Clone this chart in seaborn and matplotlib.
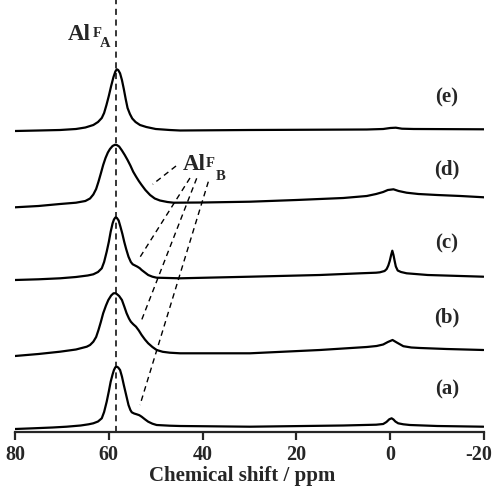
import matplotlib
matplotlib.use('Agg')
import matplotlib.pyplot as plt
import matplotlib.transforms as mtransforms
import seaborn as sns

# stacked 27Al NMR traces: chemical shift (ppm) and stacked intensity
ppm_a = [80, 76.1, 72, 69, 66, 64.3, 63.3, 62.3, 61.5, 61.0, 60.45, 60.0, 59.6, 59.2, 58.9, 58.6,
         58.3, 58.0, 57.6, 57.2, 56.8, 56.3, 55.8, 55.4, 55.1, 54.6, 54.05, 53.5, 53.0, 52.3, 51.6,
         50.7, 49.8, 47, 44.8, 29.9, 10, 3, 1.5, 0.8, 0.2, -0.3, -0.7, -1.1, -1.7, -2.8, -4.2, -10, -19.9]
int_a = [3, 3.7, 4.5, 5.3, 6.5, 7.7, 8.7, 10.5, 13.7, 20, 30.3, 40.5, 50.3, 57.5, 62, 64.8,
         65.3, 64.5, 62, 55.5, 47, 37, 27, 22, 19.7, 18.5, 17.7, 16.8, 15.3, 12.7, 10.3,
         8.3, 7, 6.3, 6, 5.3, 6.5, 7.3, 8, 10, 12.7, 13.7, 12.5, 10.5, 8.7, 7.7, 7, 6, 5.3]

ppm_b = [80, 75, 70.4, 67, 64.7, 64, 63.3, 62.7, 62.2, 61.7, 61.2, 60.6, 60.1, 59.5, 59.0, 58.6,
         58.3, 57.8, 57.2, 56.7, 56.2, 55.7, 55.3, 54.8, 54.2, 53.6, 53.0, 52.3, 51.6, 50.7, 49.8,
         48.5, 47.0, 44.8, 29.9, 15, 5, 2.9, 1.5, 0.5, -0.5, -1.4, -2.8, -4.5, -6.4, -12, -19.9]
int_b = [76, 78, 80.3, 82.5, 85.3, 87, 90.3, 95, 102, 110, 118.7, 126.5, 132, 136.5, 138.7, 138.8,
         138, 136, 132, 125.5, 118.7, 113.5, 110.3, 107.8, 105.3, 101.5, 97, 92.5, 88.7, 85, 82,
         80.2, 79.3, 78.7, 78.7, 82, 85, 86, 87.5, 90, 92, 89.5, 85.8, 84.5, 84, 83, 82]

ppm_c = [80, 75, 70.4, 67, 64.5, 63.3, 62.3, 61.5, 61.0, 60.45, 60.0, 59.6, 59.2, 58.9, 58.6,
         58.3, 57.9, 57.5, 57.1, 56.7, 56.3, 55.8, 55.3, 54.9, 54.4, 53.9, 53.4, 53.0, 52.3, 51.6,
         50.7, 49.8, 44.8, 29.9, 15, 6.4, 3, 2.2, 1.2, 0.75, 0.4, 0.1, -0.2, -0.45, -0.7, -0.95,
         -1.2, -1.6, -2.3, -3.5, -8, -19.9]
int_c = [152, 152.7, 153.7, 155, 156.5, 157.7, 160, 163.7, 170, 180.3, 190, 200.3, 208.5, 212.5, 214.5,
         214.2, 211.5, 205, 198, 190, 183, 175.3, 170, 167.7, 166.5, 165.3, 163.8, 162, 159.5, 157,
         155.3, 154.3, 153.7, 155.3, 157, 158.7, 159.3, 159.7, 161, 163, 166.5, 171, 177, 181.3, 177, 171,
         165.5, 161.5, 160, 158.7, 157, 155.3]

ppm_d = [80, 75, 70.4, 67, 65, 64, 63.3, 62.7, 62.2, 61.7, 61.2, 60.7, 60.2, 59.75, 59.2, 58.7,
         58.3, 57.8, 57.2, 56.6, 56.0, 55.4, 54.8, 54.2, 53.6, 53.0, 52.2, 51.2, 50.2, 49.1, 47.5,
         46.2, 40, 29.9, 20, 10, 5, 3, 1.5, 0.5, -0.7, -1.8, -3.5, -6, -10, -15, -20]
int_d = [224.7, 226, 228, 229.3, 231, 233.5, 237.5, 243, 250.3, 258.5, 267, 274, 279.5, 283, 286, 287.2,
         287, 285.5, 281.5, 277, 272, 266.5, 260.3, 255.5, 251, 247, 242, 237, 233.5, 231.5, 230,
         229.3, 229.5, 230.3, 232, 234, 236, 238, 240, 242, 242.7, 241, 239.3, 238, 237, 236, 234.7]

ppm_e = [80, 75, 70.4, 67, 65, 63.3, 62.3, 61.5, 61.0, 60.5, 60.0, 59.5, 59.0, 58.6, 58.3, 58.0,
         57.6, 57.2, 56.8, 56.4, 56.0, 55.5, 55.0, 54.3, 53.35, 52, 50, 47, 44.8, 30, 5, 1.5, 0,
         -1.2, -2.5, -5, -20]
int_e = [301, 301.5, 302, 303, 304.5, 307, 310, 314, 319, 327, 336, 346, 355, 360.5, 362.7, 362,
         358.7, 352, 343, 333, 324, 318, 313.5, 310, 307, 305, 303, 302, 301.5, 302, 302.5, 303, 304,
         304.3, 303.3, 303, 302.7]

spectra = [(ppm_a, int_a), (ppm_b, int_b), (ppm_c, int_c), (ppm_d, int_d), (ppm_e, int_e)]
trace_labels = ['(a)', '(b)', '(c)', '(d)', '(e)']
label_heights = [42.5, 115, 189, 263, 334.5]

alfa_shift = 58.5
# AlF_B guide lines: (start ppm, start y, end ppm, end y)
alfb_lines = [(45.67, 266, 50.64, 247.7),
              (42.69, 254, 53.5, 173.7),
              (41.26, 253.7, 53.0, 112),
              (38.78, 250.3, 53.35, 27)]

sns.set_style('ticks')
plt.rcParams['font.family'] = ['Liberation Serif', 'DejaVu Serif']
plt.rcParams['font.weight'] = 'bold'

fig = plt.figure(figsize=(4.94, 4.88), dpi=100)
ax = fig.add_axes([15 / 494, 56 / 488, 469 / 494, 432 / 488])

for ppm, vals in spectra:
    sns.lineplot(x=ppm, y=vals, color='k', linewidth=1.6, sort=False, estimator=None, ax=ax)

ax.axvline(alfa_shift, color='k', linewidth=1.1, linestyle=(0, (4, 3)))
for x0, y0, x1, y1 in alfb_lines:
    ax.plot([x0, x1], [y0, y1], color='k', linewidth=1.0, linestyle=(0, (4, 3)))

for lab, h in zip(trace_labels, label_heights):
    ax.text(-12.1, h, lab, ha='center', va='center', fontsize=15, fontweight='bold')


def site_label(x_al, y_al, x_f, y_f, x_sub, y_sub, sub):
    ax.text(x_al, y_al, 'Al', ha='left', va='baseline', fontsize=16.5, fontweight='bold')
    ax.text(x_f, y_f, 'F', ha='left', va='baseline', fontsize=10.5, fontweight='bold')
    ax.text(x_sub, y_sub, sub, ha='left', va='baseline', fontsize=10.5, fontweight='bold')


site_label(68.7, 392, 63.4, 395, 62.0, 385, 'A')
site_label(44.2, 262, 39.4, 265, 37.2, 252, 'B')

ax.set_xlim(80, -20)
ax.set_ylim(0, 432)
ax.set_xticks([80, 60, 40, 20, 0, -20])
ax.set_xticklabels(['80', '60', '40', '20', '0', '-20'])
ax.set_yticks([])
ax.set_xlabel('Chemical shift / ppm', fontsize=15, fontweight='bold', labelpad=1)
ax.xaxis.label.set_x(0.485)
ax.tick_params(axis='x', direction='out', length=6, width=1.6, labelsize=14.5, pad=3)
for t in ax.get_xticklabels():
    t.set_fontweight('bold')
last = ax.get_xticklabels()[-1]
last.set_transform(last.get_transform() + mtransforms.ScaledTranslation(-0.05, 0, fig.dpi_scale_trans))
sns.despine(ax=ax, left=True, top=True, right=True)
ax.spines['bottom'].set_linewidth(1.6)
ax.patch.set_alpha(0)

fig.savefig('out.png', dpi=100)
